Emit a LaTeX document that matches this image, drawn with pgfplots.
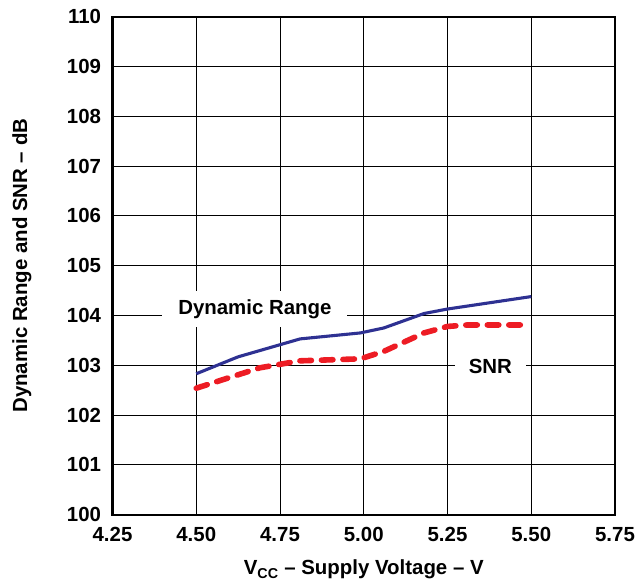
\documentclass[border=0pt]{standalone}
\usepackage{fontspec}
\setmainfont{Liberation Sans}
\usepackage{pgfplots}
\pgfplotsset{compat=1.18}

\definecolor{drblue}{HTML}{2E3192}
\definecolor{snrred}{HTML}{ED1C24}

\newcommand{\lblfont}{\fontsize{20.5}{24}\selectfont\bfseries}

\begin{document}
\begin{tikzpicture}
\begin{axis}[
  name=ax,
  scale only axis,
  width=502.5bp, height=498bp,
  xmin=4.25, xmax=5.75,
  ymin=100, ymax=110,
  xtick={4.25,4.50,...,5.75},
  ytick={100,101,...,110},
  xticklabel={\pgfmathprintnumber[fixed,fixed zerofill,precision=2]{\tick}},
  /pgf/number format/assume math mode=true,
  major tick length=0pt,
  grid=major,
  grid style={black, line width=0.9bp},
  axis line style={line width=2.2bp},
  ticklabel style={font=\lblfont},
  xticklabel style={yshift=-9bp},
  yticklabel style={xshift=-8bp},
  xlabel={V\textsubscript{CC} -- Supply Voltage -- V},
  ylabel={Dynamic Range and SNR -- dB},
  label style={font=\lblfont},
  xlabel style={at={(axis description cs:0.5,0)}, anchor=center, yshift=-55bp},
  ylabel style={at={(axis description cs:0,0.5)}, anchor=center, yshift=90.5bp},
]
\addplot[drblue, line width=3.1bp] coordinates {
  (4.50,102.83)(4.625,103.17)(4.81,103.53)(4.99,103.65)(5.06,103.75)
  (5.18,104.04)(5.25,104.13)(5.50,104.38)
};
\addplot[snrred, line width=5.6bp, line cap=round, dash pattern=on 11.5bp off 10bp] coordinates {
  (4.50,102.54)(4.69,102.95)(4.81,103.09)(4.99,103.13)(5.06,103.28)
  (5.18,103.65)(5.25,103.78)(5.31,103.81)(5.47,103.81)
};
\node[fill=white, inner xsep=16bp, inner ysep=8bp, font=\lblfont]
  at (axis cs:4.675,104.13) {Dynamic Range};
\node[fill=white, inner xsep=14bp, inner ysep=8bp, font=\lblfont]
  at (axis cs:5.378,102.98) {SNR};
\end{axis}
\pgfresetboundingbox
\path[use as bounding box] ([shift={(-112.5bp,-68bp)}]ax.south west) rectangle ([shift={(23bp,16.7bp)}]ax.north east);
\end{tikzpicture}
\end{document}
